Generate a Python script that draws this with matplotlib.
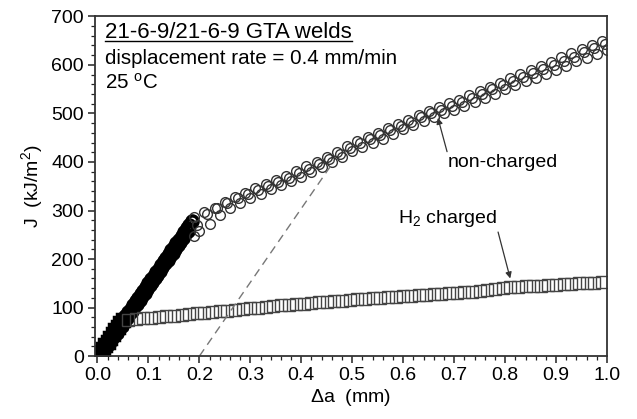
import matplotlib
matplotlib.use('Agg')
from matplotlib import pyplot as plt
from matplotlib.ticker import MultipleLocator
from matplotlib.lines import Line2D


plt.rcParams['font.family'] = ['Liberation Sans', 'DejaVu Sans']
plt.rcParams['mathtext.fontset'] = 'custom'
plt.rcParams['mathtext.rm'] = 'Liberation Sans'
plt.rcParams['mathtext.it'] = 'Liberation Sans:italic'

'''data read off the picture'''
# non-charged, elastic ramp (two overlapping strands)
nc_ramp_x = [0.000, 0.005, 0.010, 0.015, 0.020, 0.025, 0.030, 0.035, 0.040, 0.045,
             0.050, 0.055, 0.060, 0.065, 0.070, 0.075, 0.080, 0.085, 0.090, 0.095,
             0.100, 0.105, 0.110, 0.115, 0.120, 0.125, 0.130, 0.135, 0.140, 0.145,
             0.150, 0.155, 0.160, 0.165, 0.170, 0.175, 0.180, 0.185]
nc_ramp_j = [0, 8, 15, 23, 30, 38, 45, 53, 60, 68,
             75, 83, 90, 98, 105, 113, 120, 128, 135, 143,
             150, 158, 165, 173, 180, 188, 195, 203, 210, 218,
             225, 233, 240, 248, 255, 263, 270, 278]
nc_ramp2_x = [0.0025, 0.0075, 0.0125, 0.0175, 0.0225, 0.0275, 0.0325, 0.0375, 0.0425,
              0.0475, 0.0525, 0.0575, 0.0625, 0.0675, 0.0725, 0.0775, 0.0825, 0.0875,
              0.0925, 0.0975, 0.1025, 0.1075, 0.1125, 0.1175, 0.1225, 0.1275, 0.1325,
              0.1375, 0.1425, 0.1475, 0.1525, 0.1575, 0.1625, 0.1675, 0.1725, 0.1775]
nc_ramp2_j = [0, 5, 12, 19, 26, 33, 41, 48, 56, 63,
              71, 78, 86, 93, 101, 108, 116, 123, 131, 138,
              146, 153, 161, 168, 176, 183, 191, 198, 206, 213,
              221, 228, 236, 243, 251, 258]

# non-charged, after the knee (three overlapping strands)
nc_up_x = [0.19, 0.21, 0.23, 0.25, 0.27, 0.29, 0.31, 0.33, 0.35, 0.37, 0.39, 0.41,
           0.43, 0.45, 0.47, 0.49, 0.51, 0.53, 0.55, 0.57, 0.59, 0.61, 0.63, 0.65,
           0.67, 0.69, 0.71, 0.73, 0.75, 0.77, 0.79, 0.81, 0.83, 0.85, 0.87, 0.89,
           0.91, 0.93, 0.95, 0.97, 0.99]
nc_up_j = [286, 296, 306, 318, 328, 337, 347, 355, 362, 372, 381, 391,
           400, 411, 421, 432, 443, 451, 459, 469, 478, 487, 497, 504,
           513, 521, 528, 538, 546, 555, 563, 573, 581, 590, 598, 606,
           616, 624, 633, 641, 650]
nc_mid_x = [0.195, 0.215, 0.235, 0.255, 0.275, 0.295, 0.315, 0.335, 0.355, 0.375,
            0.395, 0.415, 0.435, 0.455, 0.475, 0.495, 0.515, 0.535, 0.555, 0.575,
            0.595, 0.615, 0.635, 0.655, 0.675, 0.695, 0.715, 0.735, 0.755, 0.775,
            0.795, 0.815, 0.835, 0.855, 0.875, 0.895, 0.915, 0.935, 0.955, 0.975,
            0.995]
nc_mid_j = [270, 292, 305, 315, 325, 334, 343, 351, 359, 368,
            377, 386, 396, 406, 417, 429, 439, 447, 455, 465,
            474, 483, 492, 500, 508, 516, 523, 532, 541, 550,
            558, 567, 575, 584, 592, 600, 609, 617, 626, 634,
            642]
nc_lo_x = [0.19, 0.20, 0.22, 0.24, 0.26, 0.28, 0.30, 0.32, 0.34, 0.36, 0.38, 0.40,
           0.42, 0.44, 0.46, 0.48, 0.50, 0.52, 0.54, 0.56, 0.58, 0.60, 0.62, 0.64,
           0.66, 0.68, 0.70, 0.72, 0.74, 0.76, 0.78, 0.80, 0.82, 0.84, 0.86, 0.88,
           0.90, 0.92, 0.94, 0.96, 0.98, 1.00]
nc_lo_j = [248, 258, 272, 290, 305, 316, 326, 335, 344, 352, 360, 370,
           379, 389, 399, 410, 422, 431, 440, 448, 458, 467, 476, 485,
           492, 501, 508, 516, 524, 532, 541, 550, 558, 566, 574, 582,
           590, 598, 607, 615, 622, 630]

# H2 charged
h2_ramp_x = [0.000, 0.005, 0.010, 0.015, 0.020, 0.025, 0.030, 0.035, 0.040, 0.045, 0.050]
h2_ramp_j = [0, 8, 15, 23, 30, 38, 45, 53, 60, 68, 74]
h2_x = [0.060, 0.075, 0.090, 0.105, 0.120, 0.135, 0.150, 0.165, 0.180, 0.195,
        0.210, 0.225, 0.240, 0.255, 0.270, 0.285, 0.300, 0.315, 0.330, 0.345,
        0.360, 0.375, 0.390, 0.405, 0.420, 0.435, 0.450, 0.465, 0.480, 0.495,
        0.510, 0.525, 0.540, 0.555, 0.570, 0.585, 0.600, 0.615, 0.630, 0.645,
        0.660, 0.675, 0.690, 0.705, 0.720, 0.735, 0.750, 0.765, 0.780, 0.795,
        0.810, 0.825, 0.840, 0.855, 0.870, 0.885, 0.900, 0.915, 0.930, 0.945,
        0.960, 0.975, 0.990]
h2_j = [74, 76, 78, 79, 80, 82, 83, 85, 86, 88,
        89, 91, 92, 94, 96, 97, 99, 100, 102, 103,
        105, 106, 107, 108, 110, 111, 112, 113, 114, 115,
        117, 118, 119, 120, 121, 122, 123, 124, 125, 126,
        128, 129, 130, 131, 132, 133, 135, 136, 138, 140,
        143, 143, 144, 144, 145, 146, 147, 148, 149, 150,
        150, 151, 152]

# blunting (offset) line
blunt_x = [0.2, 0.465]
blunt_j = [0, 403]

x_ticks = [0.0, 0.1, 0.2, 0.3, 0.4, 0.5, 0.6, 0.7, 0.8, 0.9, 1.0]
y_ticks = [0, 100, 200, 300, 400, 500, 600, 700]


fig = plt.figure(figsize=(6.37, 4.19), dpi=100)
ax = fig.add_axes([0.149, 0.150, 0.804, 0.811])

circ = dict(ls='none', marker='o', mfc='none', mec='#333333', ms=7, mew=1.0)
sq = dict(ls='none', marker='s', mfc='none', mec='#444444', ms=8, mew=1.0)

ax.plot(nc_ramp_x, nc_ramp_j, **dict(circ, mew=2.5, mec='black', ms=8))
ax.plot(nc_ramp2_x, nc_ramp2_j, **dict(circ, mew=2.5, mec='black', ms=8))
ax.plot(h2_ramp_x, h2_ramp_j, **dict(sq, mew=2.5, mec='black'))
ax.plot(nc_lo_x, nc_lo_j, **circ)
ax.plot(nc_mid_x, nc_mid_j, **circ)
ax.plot(nc_up_x, nc_up_j, **circ)
ax.plot(h2_x, h2_j, **sq)

ax.plot(blunt_x, blunt_j, color='#777777', lw=1.0, dashes=(6, 4))

ax.set_xlim(-0.005, 1.0)
ax.set_ylim(0, 700)
ax.set_xticks(x_ticks)
ax.set_yticks(y_ticks)
ax.set_xticklabels(['%.1f' % t for t in x_ticks])
ax.xaxis.set_minor_locator(MultipleLocator(0.02))
ax.yaxis.set_minor_locator(MultipleLocator(20))
ax.tick_params(which='both', direction='out', labelsize=14, color='#222222')
ax.tick_params(which='major', length=5, width=1.1, pad=3)
ax.tick_params(which='minor', length=3, width=0.9)
for s in ax.spines.values():
    s.set_linewidth(1.3)
    s.set_color('#333333')

ax.set_xlabel(r'$\Delta$a  (mm)', fontsize=14, labelpad=2)
ax.set_ylabel(r'J  (kJ/m$^2$)', fontsize=14, labelpad=4)

# text block top-left
t1 = ax.text(0.02, 0.952, '21-6-9/21-6-9 GTA welds', transform=ax.transAxes,
             fontsize=16, va='center', ha='left')
ax.text(0.02, 0.876, 'displacement rate = 0.4 mm/min', transform=ax.transAxes,
        fontsize=14.8, va='center', ha='left')
ax.text(0.02, 0.805, '25 $^{\\mathrm{o}}$C', transform=ax.transAxes,
        fontsize=14.8, va='center', ha='left')

fig.canvas.draw()
bb = t1.get_window_extent().transformed(fig.transFigure.inverted())
fig.add_artist(Line2D([bb.x0, bb.x1], [bb.y0 + 0.004, bb.y0 + 0.004],
                      transform=fig.transFigure, color='black', lw=1.0))

ax.annotate('non-charged', xy=(0.668, 491), xytext=(0.6875, 398),
            fontsize=14, ha='left', va='center',
            arrowprops=dict(arrowstyle='-|>', color='#333333', lw=0.9,
                            mutation_scale=9, shrinkA=0, shrinkB=0,
                            relpos=(0.0, 1.0)))
ax.annotate('H$_2$ charged', xy=(0.81, 160), xytext=(0.6875, 283),
            fontsize=14, ha='center', va='center',
            arrowprops=dict(arrowstyle='-|>', color='#333333', lw=0.9,
                            mutation_scale=9, shrinkA=0, shrinkB=0,
                            relpos=(1.0, 0.0)))

fig.savefig('out.png', dpi=100)
